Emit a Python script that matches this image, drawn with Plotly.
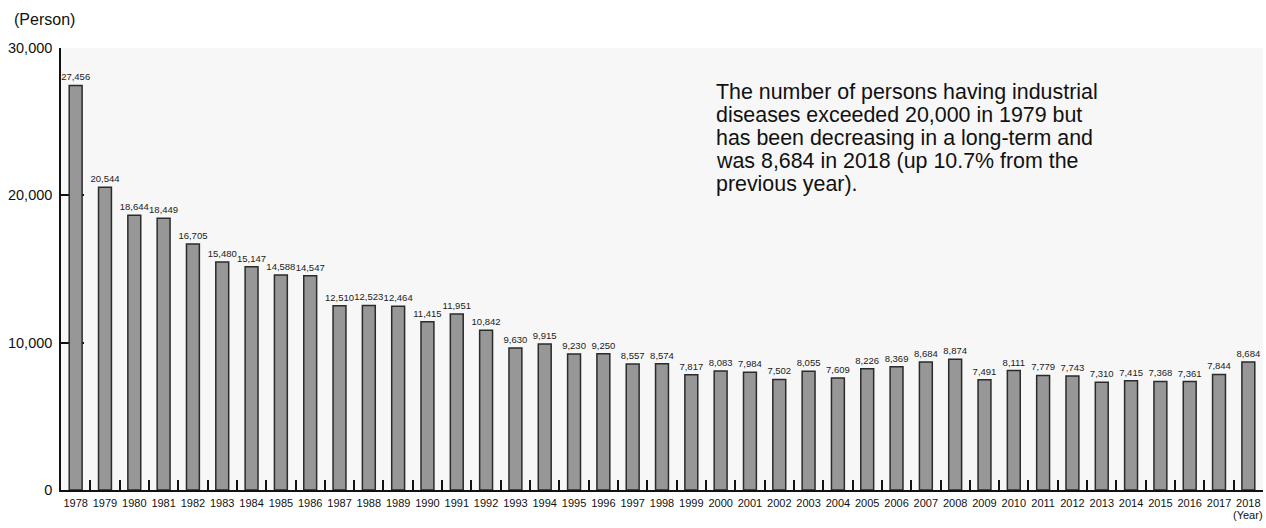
import plotly.graph_objects as go

# Persons with industrial diseases, by year
years = [str(y) for y in range(1978, 2019)]
persons = [
    27456, 20544, 18644, 18449, 16705, 15480, 15147, 14588, 14547, 12510,
    12523, 12464, 11415, 11951, 10842, 9630, 9915, 9230, 9250, 8557,
    8574, 7817, 8083, 7984, 7502, 8055, 7609, 8226, 8369, 8684,
    8874, 7491, 8111, 7779, 7743, 7310, 7415, 7368, 7361, 7844,
    8684,
]
y_ticks = [0, 10000, 20000, 30000]
note_lines = [
    "The number of persons having industrial",
    "diseases exceeded 20,000 in 1979 but",
    "has been decreasing in a long-term and",
    "was 8,684 in 2018 (up 10.7% from the",
    "previous year).",
]

W, H = 1266, 528
M_L, M_R, M_T, M_B = 61, 3, 48, 38
PW, PH = W - M_L - M_R, H - M_T - M_B


def px_x(px):
    return (px - M_L) / PW


def px_y(py):
    return (H - M_B - py) / PH


SANS = "Liberation Sans, Arial, sans-serif"

fig = go.Figure(
    go.Bar(
        x=years,
        y=persons,
        marker=dict(color="#979797", line=dict(color="#2b2b2b", width=1.5)),
        text=[f"{v:,}" for v in persons],
        textposition="outside",
        textangle=0,
        constraintext="none",
        cliponaxis=False,
        textfont=dict(family=SANS, size=9.5, color="#222222"),
        hoverinfo="x+y",
    )
)

annotations = [
    dict(text="(Person)", x=px_x(12), y=px_y(19), xref="paper", yref="paper",
         xanchor="left", yanchor="middle", showarrow=False,
         font=dict(family=SANS, size=16, color="#111111")),
    dict(text="(Year)", x=px_x(1265), y=px_y(515), xref="paper", yref="paper",
         xanchor="right", yanchor="middle", showarrow=False,
         font=dict(family=SANS, size=11, color="#111111")),
]
for i, line in enumerate(note_lines):
    annotations.append(
        dict(text=line, x=px_x(715), y=px_y(91.7 + 23 * i), xref="paper", yref="paper",
             xanchor="left", yanchor="middle", showarrow=False, borderpad=0,
             font=dict(family=SANS, size=21.4, color="#111111"))
    )

fig.update_layout(
    width=W,
    height=H,
    margin=dict(l=M_L, r=M_R, t=M_T, b=M_B, pad=0),
    paper_bgcolor="white",
    plot_bgcolor="#f7f7f7",
    bargap=0.56,
    showlegend=False,
    annotations=annotations,
    xaxis=dict(
        type="category",
        showgrid=False,
        showline=True,
        linecolor="#111111",
        linewidth=1.5,
        ticks="inside",
        tickson="boundaries",
        ticklen=10,
        tickwidth=1.5,
        tickcolor="#111111",
        tickangle=0,
        ticklabelstandoff=2,
        tickfont=dict(family=SANS, size=11, color="#111111"),
        layer="below traces",
        fixedrange=True,
    ),
    yaxis=dict(
        range=[0, 30000],
        tickvals=y_ticks,
        tickformat=",",
        showgrid=False,
        zeroline=False,
        showline=True,
        linecolor="#111111",
        linewidth=1.5,
        ticks="inside",
        ticklen=23,
        tickwidth=1.5,
        tickcolor="#111111",
        ticklabelstandoff=4,
        tickfont=dict(family=SANS, size=14.5, color="#111111"),
        layer="below traces",
        fixedrange=True,
    ),
)

fig.write_html("out.html")
